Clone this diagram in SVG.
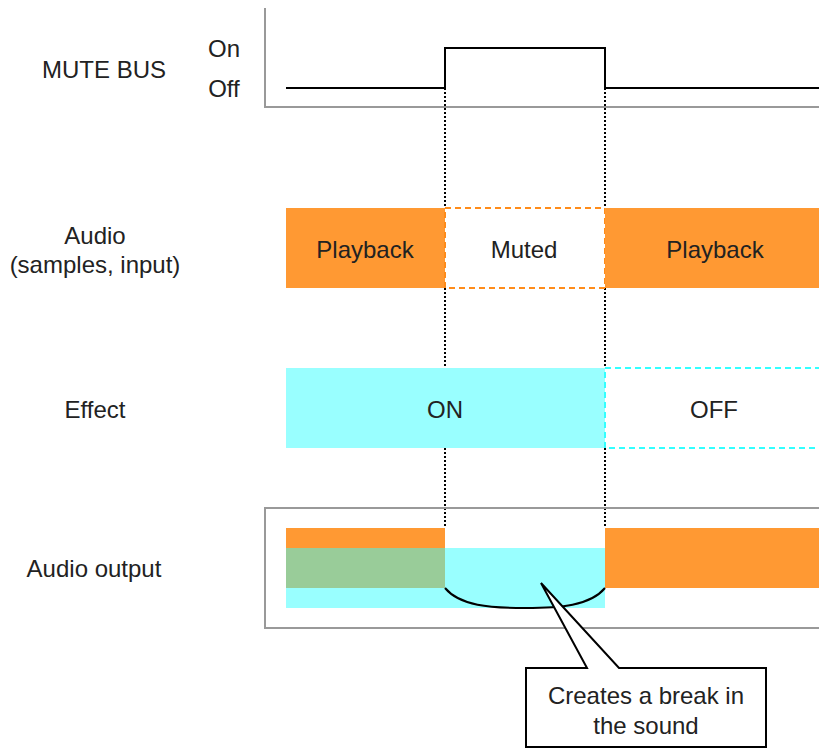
<svg xmlns="http://www.w3.org/2000/svg" width="819" height="749" viewBox="0 0 819 749">
<style>
text{font-family:"Liberation Sans",Arial,sans-serif;font-size:24px;fill:#222;text-anchor:middle}
.axis{fill:none;stroke:#999;stroke-width:2}
.sig{fill:none;stroke:#000;stroke-width:2}
.dot{fill:none;stroke:#000;stroke-width:2;stroke-dasharray:2 2}
.or{fill:#ff9933}
.cy{fill:#99ffff}
.gr{fill:#99cc99}
</style>
<rect width="819" height="749" fill="#fff"/>
<g id="connectors">
<line class="dot" x1="445" y1="88" x2="445" y2="528"/>
<line class="dot" x1="605" y1="88" x2="605" y2="528"/>
</g>
<g id="mute-bus">
<path class="axis" d="M265,8 V107 H819"/>
<path class="sig" d="M286,88 H445 V48 H605 V88 H819"/>
<text x="104" y="78">MUTE BUS</text>
<text x="224" y="57">On</text>
<text x="224" y="97">Off</text>
</g>
<g id="audio">
<text x="95" y="244">Audio</text>
<text x="95" y="273">(samples, input)</text>
<rect class="or" x="286" y="208" width="159" height="80"/>
<rect x="445" y="208" width="160" height="80" fill="#fff" stroke="#ff8c1a" stroke-width="2" stroke-dasharray="6 4"/>
<rect class="or" x="605" y="208" width="220" height="80"/>
<text x="365" y="258">Playback</text>
<text x="524" y="258">Muted</text>
<text x="715" y="258">Playback</text>
</g>
<g id="effect">
<text x="95" y="418">Effect</text>
<rect class="cy" x="286" y="368" width="319" height="80"/>
<rect x="605" y="368" width="240" height="80" fill="#fff" stroke="#33ffff" stroke-width="2" stroke-dasharray="6 4"/>
<text x="445" y="418">ON</text>
<text x="714" y="418">OFF</text>
</g>
<g id="audio-output">
<text x="94" y="577">Audio output</text>
<rect class="axis" x="265" y="508" width="600" height="120"/>
<rect class="or" x="286" y="528" width="159" height="20"/>
<rect class="gr" x="286" y="548" width="159" height="40"/>
<rect class="cy" x="286" y="588" width="159" height="20"/>
<rect class="cy" x="445" y="548" width="160" height="60"/>
<rect class="or" x="605" y="528" width="220" height="60"/>
<path class="sig" d="M445,588 C460,606 490,608 525,608 C560,608 590,606 605,588"/>
</g>
<g id="callout">
<path d="M526,668 H587 L541,583 L619,668 H766 V747 H526 Z" fill="#fff" stroke="#000" stroke-width="2"/>
<text x="646" y="704">Creates a break in</text>
<text x="646" y="734">the sound</text>
</g>
</svg>
